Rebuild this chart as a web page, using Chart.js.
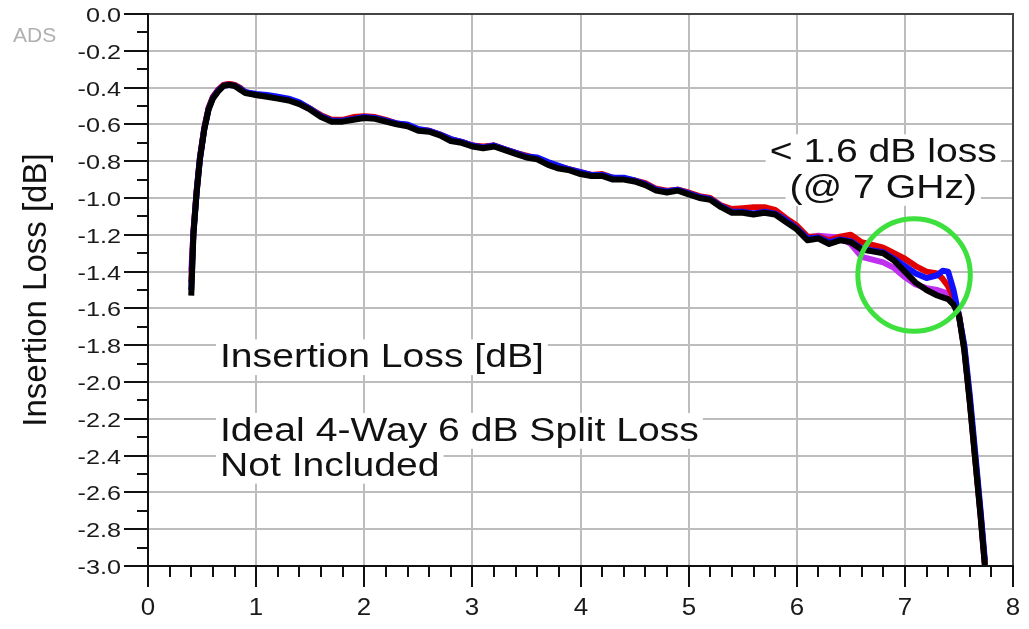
<!DOCTYPE html>
<html>
<head>
<meta charset="utf-8">
<script src="https://cdn.jsdelivr.net/npm/chart.js@4.4.1/dist/chart.umd.min.js"></script>
<style>
  html, body { margin: 0; padding: 0; background: #fff; }
  canvas { display: block; }
</style>
</head>
<body>
<canvas id="loss-chart" width="1029" height="629"></canvas>
<script>
// frequency axis [GHz], shared by all four traces
const freq = [0.40, 0.42, 0.45, 0.48, 0.52, 0.56, 0.60, 0.65, 0.70, 0.75, 0.80, 0.85, 0.90,
  1.0, 1.1, 1.2, 1.3, 1.4, 1.5, 1.6, 1.7, 1.8, 1.9, 2.0, 2.1, 2.2, 2.3, 2.4, 2.5, 2.6, 2.7, 2.8, 2.9,
  3.0, 3.1, 3.2, 3.3, 3.4, 3.5, 3.6, 3.7, 3.8, 3.9, 4.0, 4.1, 4.2, 4.3, 4.4, 4.5, 4.6, 4.7, 4.8, 4.9,
  5.0, 5.1, 5.2, 5.3, 5.4, 5.5, 5.6, 5.7, 5.8, 5.9, 6.0, 6.1, 6.2, 6.3, 6.4, 6.5, 6.6, 6.7, 6.8, 6.9,
  7.0, 7.1, 7.2, 7.3, 7.35, 7.4, 7.45, 7.5, 7.55, 7.6, 7.65, 7.7, 7.74];

// insertion loss [dB] per output port
const lossBlack = [-1.53, -1.20, -0.97, -0.79, -0.63, -0.52, -0.46, -0.42, -0.39, -0.385, -0.39, -0.41, -0.43,
  -0.44, -0.45, -0.46, -0.47, -0.49, -0.52, -0.56, -0.585, -0.585, -0.575, -0.565, -0.57, -0.585, -0.60, -0.61, -0.635, -0.64, -0.66, -0.69, -0.70,
  -0.72, -0.73, -0.72, -0.74, -0.76, -0.78, -0.79, -0.82, -0.84, -0.85, -0.87, -0.88, -0.88, -0.90, -0.90, -0.91, -0.93, -0.96, -0.97, -0.96,
  -0.98, -1.00, -1.01, -1.05, -1.08, -1.08, -1.09, -1.08, -1.09, -1.13, -1.17, -1.23, -1.22, -1.25, -1.23, -1.24, -1.28, -1.29, -1.30, -1.34,
  -1.40, -1.46, -1.50, -1.53, -1.54, -1.55, -1.58, -1.64, -1.83, -2.11, -2.42, -2.73, -3.00];

const lossBlue = [-1.50, -1.19, -0.965, -0.785, -0.625, -0.515, -0.455, -0.415, -0.39, -0.385, -0.39, -0.405, -0.425,
  -0.435, -0.44, -0.45, -0.46, -0.48, -0.515, -0.555, -0.58, -0.58, -0.57, -0.56, -0.565, -0.58, -0.595, -0.60, -0.625, -0.635, -0.655, -0.68, -0.695,
  -0.715, -0.725, -0.715, -0.735, -0.755, -0.775, -0.78, -0.805, -0.825, -0.845, -0.86, -0.875, -0.875, -0.89, -0.89, -0.905, -0.925, -0.955, -0.965, -0.955,
  -0.975, -0.995, -1.005, -1.045, -1.075, -1.075, -1.085, -1.075, -1.085, -1.12, -1.165, -1.22, -1.215, -1.24, -1.225, -1.235, -1.275, -1.285, -1.295, -1.33,
  -1.37, -1.41, -1.435, -1.42, -1.395, -1.40, -1.50, -1.64, -1.80, -2.07, -2.38, -2.70, -2.97];

const lossMagenta = [-1.40, -1.19, -0.965, -0.785, -0.625, -0.515, -0.455, -0.415, -0.385, -0.38, -0.385, -0.405, -0.425,
  -0.44, -0.445, -0.455, -0.465, -0.485, -0.515, -0.555, -0.58, -0.58, -0.57, -0.56, -0.565, -0.58, -0.595, -0.605, -0.63, -0.635, -0.655, -0.685, -0.695,
  -0.715, -0.725, -0.715, -0.735, -0.755, -0.775, -0.785, -0.81, -0.83, -0.845, -0.865, -0.875, -0.875, -0.895, -0.895, -0.905, -0.925, -0.955, -0.965, -0.955,
  -0.975, -0.995, -1.005, -1.045, -1.075, -1.075, -1.085, -1.075, -1.085, -1.125, -1.165, -1.215, -1.205, -1.21, -1.215, -1.25, -1.32, -1.335, -1.35, -1.38,
  -1.43, -1.47, -1.49, -1.50, -1.51, -1.52, -1.56, -1.64, -1.82, -2.10, -2.41, -2.72, -2.99];

const lossRed = [-1.46, -1.18, -0.96, -0.78, -0.62, -0.51, -0.45, -0.41, -0.385, -0.38, -0.385, -0.40, -0.425,
  -0.44, -0.445, -0.455, -0.465, -0.485, -0.515, -0.55, -0.575, -0.575, -0.56, -0.555, -0.56, -0.575, -0.595, -0.605, -0.63, -0.635, -0.655, -0.68, -0.695,
  -0.715, -0.72, -0.715, -0.735, -0.755, -0.77, -0.785, -0.81, -0.83, -0.845, -0.86, -0.875, -0.87, -0.89, -0.895, -0.905, -0.92, -0.95, -0.96, -0.955,
  -0.97, -0.99, -1.00, -1.04, -1.06, -1.055, -1.05, -1.05, -1.065, -1.11, -1.15, -1.21, -1.21, -1.23, -1.21, -1.20, -1.24, -1.255, -1.27, -1.30,
  -1.33, -1.37, -1.40, -1.41, -1.44, -1.48, -1.54, -1.63, -1.82, -2.10, -2.41, -2.72, -2.99];

const xRange = [0, 8];
const yRange = [-3, 0];

const FONT = "'Liberation Sans', Arial, sans-serif";
const isMajorY = v => Math.round(v * 10) % 2 === 0;
const isMajorX = v => Math.round(v * 5) % 5 === 0;

const toPoints = ys => freq.map((f, i) => ({ x: f, y: ys[i] }));

function stretchText(ctx, str, x, y, size, align, sx, color, box) {
    ctx.save();
    ctx.font = size + "px " + FONT;
    ctx.textAlign = align;
    ctx.textBaseline = "alphabetic";
    const w = ctx.measureText(str).width * sx;
    if (box) {
        let left = align === "center" ? x - w / 2 : align === "right" ? x - w : x;
        ctx.fillStyle = "#fff";
        ctx.fillRect(left - 4, y - size * 0.82, w + 8, size * 1.05);
    }
    ctx.translate(x, y);
    ctx.scale(sx, 1);
    ctx.fillStyle = color;
    ctx.fillText(str, 0, 0);
    ctx.restore();
}

const decorPlugin = {
    id: "decor",
    afterDraw(chart) {
        const { ctx, chartArea: a, scales: { x, y } } = chart;
        ctx.save();
        // frame
        ctx.lineCap = "butt";
        ctx.lineWidth = 2;
        ctx.strokeStyle = "#444";
        ctx.beginPath();
        ctx.moveTo(a.left, a.top); ctx.lineTo(a.right, a.top); ctx.lineTo(a.right, a.bottom);
        ctx.stroke();
        ctx.strokeStyle = "#111";
        ctx.beginPath();
        ctx.moveTo(a.left, a.top - 1); ctx.lineTo(a.left, a.bottom); ctx.lineTo(a.right + 1, a.bottom);
        ctx.stroke();

        // ticks
        ctx.lineWidth = 2;
        y.ticks.forEach(t => {
            const py = Math.round(y.getPixelForValue(t.value));
            const len = isMajorY(t.value) ? 24 : 11;
            ctx.beginPath(); ctx.moveTo(a.left - len, py); ctx.lineTo(a.left, py); ctx.stroke();
            if (isMajorY(t.value)) {
                stretchText(ctx, t.value.toFixed(1).replace("-0.0", "0.0"), a.left - 27, py + 8, 21, "right", 1.2, "#1a1a1a");
            }
        });
        x.ticks.forEach(t => {
            const px = Math.round(x.getPixelForValue(t.value));
            const len = isMajorX(t.value) ? 21 : 11;
            ctx.beginPath(); ctx.moveTo(px, a.bottom); ctx.lineTo(px, a.bottom + len); ctx.stroke();
            if (isMajorX(t.value)) {
                stretchText(ctx, String(Math.round(t.value)), px, a.bottom + 49, 24, "center", 1.08, "#1a1a1a");
            }
        });

        // axis title
        ctx.save();
        ctx.translate(46, (a.top + a.bottom) / 2);
        ctx.rotate(-Math.PI / 2);
        ctx.font = "33px " + FONT;
        ctx.textAlign = "center";
        ctx.fillStyle = "#111";
        ctx.fillText("Insertion Loss [dB]", 0, 0);
        ctx.restore();

        // ADS watermark
        stretchText(ctx, "ADS", 13, 42, 20, "left", 1.05, "#b0b0b0");

        // annotations
        const X = v => x.getPixelForValue(v), Y = v => y.getPixelForValue(v);
        stretchText(ctx, "< 1.6 dB loss", X(6.80), Y(-0.805), 34, "center", 1.15, "#111", true);
        stretchText(ctx, "(@ 7 GHz)", X(6.80), Y(-1.0), 34, "center", 1.15, "#111", true);
        stretchText(ctx, "Insertion Loss [dB]", X(0.666), Y(-1.92), 34, "left", 1.15, "#111", true);
        stretchText(ctx, "Ideal 4-Way 6 dB Split Loss", X(0.666), Y(-2.32), 34, "left", 1.15, "#111", true);
        stretchText(ctx, "Not Included", X(0.666), Y(-2.51), 34, "left", 1.15, "#111", true);

        // green highlight circle around 7 GHz
        const cx = X(7.085), cy = Y(-1.418);
        const r = X(7.085 + 0.52) - cx;
        ctx.strokeStyle = "#3ee03e";
        ctx.lineWidth = 5;
        ctx.beginPath();
        ctx.arc(cx, cy, r, 0, Math.PI * 2);
        ctx.stroke();
        ctx.restore();
    }
};

const gridColor = major => ctx => (ctx.tick && major(ctx.tick.value)) ? "#bdbdbd" : "rgba(0,0,0,0)";

new Chart(document.getElementById("loss-chart").getContext("2d"), {
    type: "line",
    data: {
        datasets: [
            { label: "Port 1", data: toPoints(lossBlack), borderColor: "#000000", borderWidth: 6 },
            { label: "Port 2", data: toPoints(lossBlue), borderColor: "#1010ff", borderWidth: 6 },
            { label: "Port 4", data: toPoints(lossRed), borderColor: "#e00000", borderWidth: 6 },
            { label: "Port 3", data: toPoints(lossMagenta), borderColor: "#c030f0", borderWidth: 6 }
        ]
    },
    options: {
        responsive: false,
        animation: false,
        elements: { point: { radius: 0 }, line: { tension: 0, borderJoinStyle: "round" } },
        layout: { padding: { top: 14, right: 16, left: 0, bottom: 0 } },
        plugins: { legend: { display: false }, tooltip: { enabled: false } },
        scales: {
            x: {
                type: "linear", min: xRange[0], max: xRange[1],
                ticks: { stepSize: 0.2, display: false },
                grid: { color: gridColor(isMajorX), lineWidth: 2, drawTicks: false },
                border: { display: false },
                afterFit: s => { s.height = 63; }
            },
            y: {
                min: yRange[0], max: yRange[1],
                ticks: { stepSize: 0.1, display: false },
                grid: { color: gridColor(isMajorY), lineWidth: 2, drawTicks: false },
                border: { display: false },
                afterFit: s => { s.width = 148; }
            }
        }
    },
    plugins: [decorPlugin]
});
</script>
</body>
</html>
